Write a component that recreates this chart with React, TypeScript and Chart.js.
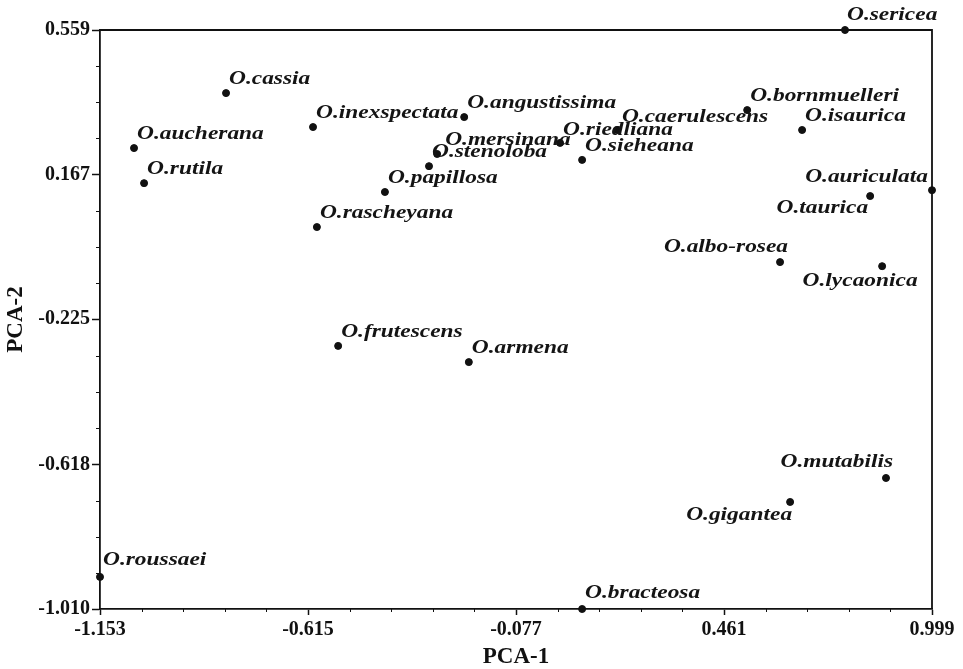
import React, { useEffect, useRef } from 'react';
import { Chart, registerables } from 'chart.js';

Chart.register(...registerables);

const speciesNames = [
  'O.sericea', 'O.cassia', 'O.aucherana', 'O.rutila', 'O.inexspectata',
  'O.angustissima', 'O.mersinana', 'O.stenoloba', 'O.riedliana', 'O.caerulescens',
  'O.sieheana', 'O.bornmuelleri', 'O.isaurica', 'O.auriculata', 'O.taurica',
  'O.albo-rosea', 'O.lycaonica', 'O.frutescens', 'O.armena', 'O.rascheyana',
  'O.papillosa', 'O.mutabilis', 'O.gigantea', 'O.bracteosa', 'O.roussaei',
];
const pca1 = [
  0.774, -0.827, -1.065, -1.039, -0.602,
  -0.211, -0.281, -0.302, 0.037, 0.184,
  0.094, 0.521, 0.663, 0.999, 0.839,
  0.606, 0.870, -0.537, -0.199, -0.592,
  -0.416, 0.880, 0.632, 0.094, -1.153,
];
const pca2 = [
  0.559, 0.388, 0.239, 0.144, 0.296,
  0.323, 0.223, 0.190, 0.253, 0.288,
  0.207, 0.342, 0.288, 0.125, 0.109,
  -0.070, -0.081, -0.297, -0.341, 0.025,
  0.120, -0.655, -0.720, -1.010, -0.923,
];

const xTickValues = [-1.153, -0.615, -0.077, 0.461, 0.999];
const xTickLabels = ['-1.153', '-0.615', '-0.077', '0.461', '0.999'];
const yTickValues = [-1.010, -0.618, -0.225, 0.167, 0.559];
const yTickLabels = ['-1.010', '-0.618', '-0.225', '0.167', '0.559'];
const xMinorDivisions = 5;
const yMinorDivisions = 4;

// label placement relative to each point: [dx, dy, align]
const DEF: [number, number, CanvasTextAlign] = [3, -14, 'left'];
const labelPlacement: [number, number, CanvasTextAlign][] = speciesNames.map((n) => {
  switch (n) {
    case 'O.sericea': return [2, -15, 'left'];
    case 'O.mersinana': return [8, -14, 'left'];
    case 'O.riedliana': return [3, -13, 'left'];
    case 'O.caerulescens': return [5, -13, 'left'];
    case 'O.auriculata': return [-4, -13, 'right'];
    case 'O.taurica': return [-2, 12, 'right'];
    case 'O.albo-rosea': return [8, -15, 'right'];
    case 'O.lycaonica': return [-22, 15, 'center'];
    case 'O.mutabilis': return [7, -16, 'right'];
    case 'O.gigantea': return [2, 13, 'right'];
    case 'O.bracteosa': return [3, -16, 'left'];
    case 'O.roussaei': return [3, -17, 'left'];
    default: return DEF;
  }
});

const LABEL_STRETCH = 1.3;

const framePlugin = {
  id: 'frameAndMinor',
  afterDraw(chart: any) {
    const { ctx, chartArea } = chart;
    const xs = chart.scales.x;
    const ys = chart.scales.y;
    ctx.save();
    ctx.strokeStyle = '#111';
    ctx.lineWidth = 1.8;
    ctx.beginPath();
    ctx.moveTo(chartArea.left, chartArea.top);
    ctx.lineTo(chartArea.right, chartArea.top);
    ctx.lineTo(chartArea.right, chartArea.bottom);
    ctx.stroke();
    ctx.lineWidth = 1;
    ctx.beginPath();
    for (let i = 0; i < xTickValues.length - 1; i++) {
      const step = (xTickValues[i + 1] - xTickValues[i]) / xMinorDivisions;
      for (let k = 1; k < xMinorDivisions; k++) {
        const px = Math.round(xs.getPixelForValue(xTickValues[i] + k * step)) + 0.5;
        ctx.moveTo(px, chartArea.bottom);
        ctx.lineTo(px, chartArea.bottom + 3);
      }
    }
    for (let i = 0; i < yTickValues.length - 1; i++) {
      const step = (yTickValues[i + 1] - yTickValues[i]) / yMinorDivisions;
      for (let k = 1; k < yMinorDivisions; k++) {
        const py = Math.round(ys.getPixelForValue(yTickValues[i] + k * step)) + 0.5;
        ctx.moveTo(chartArea.left, py);
        ctx.lineTo(chartArea.left - 4, py);
      }
    }
    ctx.stroke();
    ctx.restore();
  },
};

const labelPlugin = {
  id: 'pointLabels',
  afterDatasetsDraw(chart: any) {
    const { ctx } = chart;
    const meta = chart.getDatasetMeta(0);
    ctx.save();
    ctx.fillStyle = '#141414';
    ctx.font = 'italic bold 18px "Liberation Serif", "Times New Roman", serif';
    ctx.textBaseline = 'middle';
    meta.data.forEach((el: any, i: number) => {
      const [dx, dy, align] = labelPlacement[i];
      ctx.save();
      ctx.translate(el.x + dx, el.y + dy);
      ctx.scale(LABEL_STRETCH, 1);
      ctx.textAlign = align;
      ctx.fillText(speciesNames[i], 0, 0);
      ctx.restore();
    });
    ctx.restore();
  },
};

export default function App() {
  const canvasRef = useRef<HTMLCanvasElement | null>(null);

  useEffect(() => {
    const canvas = canvasRef.current;
    if (!canvas) return;
    const chart = new Chart(canvas, {
      type: 'scatter',
      data: {
        datasets: [
          {
            label: 'species',
            data: pca1.map((x, i) => ({ x, y: pca2[i] })),
            backgroundColor: '#111',
            borderColor: '#111',
            pointRadius: 3.5,
            pointHoverRadius: 3.5,
            clip: false as any,
          },
        ],
      },
      options: {
        responsive: false,
        animation: false,
        events: [],
        layout: { padding: { left: 0, top: 30, right: 31, bottom: 0 } },
        plugins: { legend: { display: false }, tooltip: { enabled: false } },
        scales: {
          x: {
            type: 'linear',
            min: xTickValues[0],
            max: xTickValues[xTickValues.length - 1],
            afterBuildTicks: (scale: any) => {
              scale.ticks = xTickValues.map((v) => ({ value: v }));
            },
            afterFit: (scale: any) => { scale.height = 60; },
            ticks: {
              autoSkip: false,
              maxRotation: 0,
              padding: 3,
              color: '#111',
              font: { family: '"Liberation Serif", "Times New Roman", serif', size: 20, weight: 'bold' },
              callback: (_v: any, i: number) => xTickLabels[i],
            },
            grid: { drawOnChartArea: false, drawTicks: true, tickLength: 6, tickColor: '#111', tickWidth: 1.5 },
            border: { display: true, color: '#111', width: 1.8 },
            title: {
              display: true,
              text: 'PCA-1',
              color: '#111',
              padding: { top: 0, bottom: 0 },
              font: { family: '"Liberation Serif", "Times New Roman", serif', size: 23, weight: 'bold', lineHeight: 1 },
            },
          },
          y: {
            type: 'linear',
            min: yTickValues[0],
            max: yTickValues[yTickValues.length - 1],
            afterBuildTicks: (scale: any) => {
              scale.ticks = yTickValues.map((v) => ({ value: v }));
            },
            afterFit: (scale: any) => { scale.width = 100; },
            ticks: {
              autoSkip: false,
              padding: 2,
              color: '#111',
              font: { family: '"Liberation Serif", "Times New Roman", serif', size: 20, weight: 'bold' },
              callback: (_v: any, i: number) => yTickLabels[i],
            },
            grid: { drawOnChartArea: false, drawTicks: true, tickLength: 8, tickColor: '#111', tickWidth: 1.5 },
            border: { display: true, color: '#111', width: 1.8 },
            title: {
              display: true,
              text: 'PCA-2',
              color: '#111',
              padding: { top: 2, bottom: 0 },
              font: { family: '"Liberation Serif", "Times New Roman", serif', size: 23, weight: 'bold', lineHeight: 1.2 },
            },
          },
        },
      },
      plugins: [framePlugin, labelPlugin],
    } as any);
    return () => chart.destroy();
  }, []);

  return (
    <div style={{ position: 'fixed', left: 0, top: 0, width: 963, height: 669, background: '#fff' }}>
      <canvas ref={canvasRef} width={963} height={669} style={{ display: 'block' }} />
    </div>
  );
}
